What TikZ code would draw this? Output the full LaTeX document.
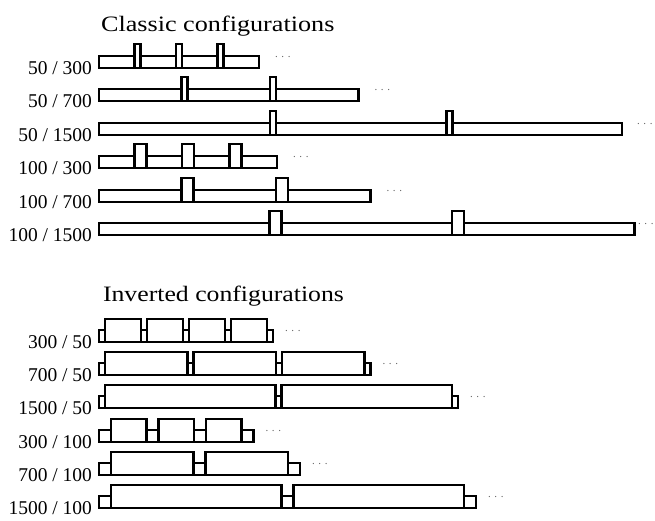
\documentclass[tikz,border=0pt]{standalone}
\usepackage{graphicx}
\usepackage{fontspec}
\setmainfont{Liberation Serif}
\begin{document}
\begin{tikzpicture}[x=1pt,y=-1pt, line width=2.1pt, line join=miter,
  bar/.style={draw=black, fill=white},
  lbl/.style={anchor=base east, inner sep=0pt, font=\fontsize{19.5}{22}\selectfont},
  ttl/.style={anchor=base west, inner sep=0pt, font=\fontsize{22}{24}\selectfont},
  dotsnode/.style={anchor=base west, inner sep=0pt, text=black!60, font=\fontsize{11}{13}\selectfont}]
\useasboundingbox (0,0) rectangle (655,520);

% titles
\node[ttl] (t1) at (100,31.5) {\scalebox{1.19}[1]{Classic configurations}};
\node[ttl] (t2) at (102,301.5) {\scalebox{1.17}[1]{Inverted configurations}};

% ---------- classic ----------
% row 1: 50 / 300
\draw[bar] (99,56) rectangle (259,68);
\foreach \x in {134.5,176,217.5} \draw[bar] (\x,44) rectangle ++(6,24);
\node[lbl] (c1) at (93,74) {50 / 300};
\node[dotsnode] (d1) at (274,57) {. . .};
% row 2: 50 / 700
\draw[bar] (99,89) rectangle (358.5,101);
\foreach \x in {181.5,270} \draw[bar] (\x,77) rectangle ++(6,24);
\node[lbl] (c2) at (93,107) {50 / 700};
\node[dotsnode] (d2) at (373.5,90) {. . .};
% row 3: 50 / 1500
\draw[bar] (99,123) rectangle (622,135);
\foreach \x in {270,446.5} \draw[bar] (\x,111) rectangle ++(6,24);
\node[lbl] (c3) at (93,141) {50 / 1500};
\node[dotsnode] (d3) at (636,124) {. . .};
% row 4: 100 / 300
\draw[bar] (99,156) rectangle (277,168);
\foreach \x in {134.5,182,229.5} \draw[bar] (\x,144) rectangle ++(12,24);
\node[lbl] (c4) at (93,174) {100 / 300};
\node[dotsnode] (d4) at (292,157) {. . .};
% row 5: 100 / 700
\draw[bar] (99,190) rectangle (370.5,202);
\foreach \x in {181.5,276} \draw[bar] (\x,178) rectangle ++(12,24);
\node[lbl] (c5) at (93,208) {100 / 700};
\node[dotsnode] (d5) at (385.5,191) {. . .};
% row 6: 100 / 1500
\draw[bar] (99,223) rectangle (634.5,235);
\foreach \x in {269.5,452} \draw[bar] (\x,211) rectangle ++(12,24);
\node[lbl] (c6) at (93,241) {100 / 1500};
\node[dotsnode] (d6) at (637,224) {. . .};

% ---------- inverted ----------
% row 1: 300 / 50
\draw[bar] (99,330) rectangle (273,342);
\foreach \x in {105,147,189,231} \draw[bar] (\x,319) rectangle ++(36,23);
\node[lbl] (i1) at (93,348) {300 / 50};
\node[dotsnode] (e1) at (284,331) {. . .};
% row 2: 700 / 50
\draw[bar] (99,363) rectangle (370.5,375);
\foreach \x in {105,193.5,282} \draw[bar] (\x,352) rectangle ++(82.5,23);
\node[lbl] (i2) at (93,381) {700 / 50};
\node[dotsnode] (e2) at (381.5,364) {. . .};
% row 3: 1500 / 50
\draw[bar] (99,396) rectangle (458,408);
\foreach \x in {105,281.5} \draw[bar] (\x,385) rectangle ++(170.5,23);
\node[lbl] (i3) at (93,414) {1500 / 50};
\node[dotsnode] (e3) at (469,397) {. . .};
% row 4: 300 / 100
\draw[bar] (99,430) rectangle (253.5,442);
\foreach \x in {111,158.5,206} \draw[bar] (\x,419) rectangle ++(35.5,23);
\node[lbl] (i4) at (93,448) {300 / 100};
\node[dotsnode] (e4) at (264.5,431) {. . .};
% row 5: 700 / 100
\draw[bar] (99,463) rectangle (300,475);
\foreach \x in {111,205.5} \draw[bar] (\x,452) rectangle ++(82.5,23);
\node[lbl] (i5) at (93,481) {700 / 100};
\node[dotsnode] (e5) at (311,464) {. . .};
% row 6: 1500 / 100
\draw[bar] (99,496) rectangle (476,508);
\foreach \x in {111,293.5} \draw[bar] (\x,485) rectangle ++(170.5,23);
\node[lbl] (i6) at (93,514) {1500 / 100};
\node[dotsnode] (e6) at (487,497) {. . .};
\end{tikzpicture}
\end{document}
